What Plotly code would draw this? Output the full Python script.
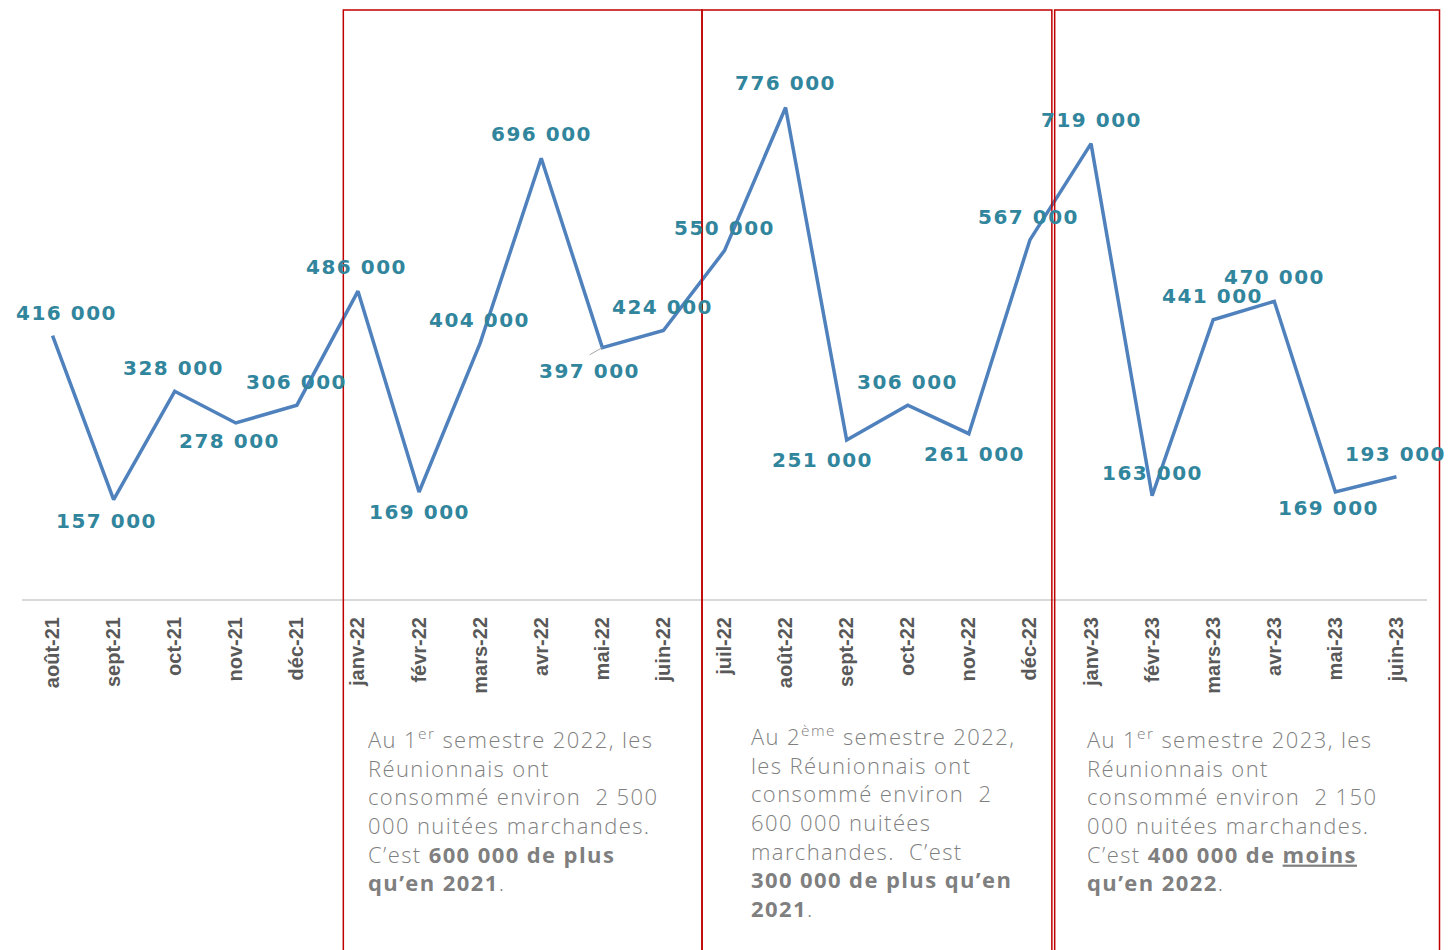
import plotly.graph_objects as go

# ---------------------------------------------------------
# Données : nuitées marchandes consommées par les Réunionnais
# ---------------------------------------------------------
mois = ["août-21", "sept-21", "oct-21", "nov-21", "déc-21",
        "janv-22", "févr-22", "mars-22", "avr-22", "mai-22", "juin-22",
        "juil-22", "août-22", "sept-22", "oct-22", "nov-22", "déc-22",
        "janv-23", "févr-23", "mars-23", "avr-23", "mai-23", "juin-23"]

nuitees = [416000, 157000, 328000, 278000, 306000,
           486000, 169000, 404000, 696000, 397000, 424000,
           550000, 776000, 251000, 306000, 261000, 567000,
           719000, 163000, 441000, 470000, 169000, 193000]

textes = [
    "Au 1<sup>er</sup> semestre 2022, les<br>Réunionnais ont<br>consommé environ  2 500<br>"
    "000 nuitées marchandes.<br>C’est <b>600 000 de plus</b><br><b>qu’en 2021</b>.",
    "Au 2<sup>ème</sup> semestre 2022,<br>les Réunionnais ont<br>consommé environ  2<br>"
    "600 000 nuitées<br>marchandes.  C’est<br><b>300 000 de plus qu’en</b><br><b>2021</b>.",
    "Au 1<sup>er</sup> semestre 2023, les<br>Réunionnais ont<br>consommé environ  2 150<br>"
    "000 nuitées marchandes.<br>C’est <b>400 000 de <u>moins</u></b><br><b>qu’en 2022</b>.",
]

# placement des étiquettes (décalage en px par rapport au point)
label_dx = [14, -7, -1, -6, 0, -1, 0, -1, 0, -13, -1, 0, 0, -24, 0, 6, -1, 0, 0, -1, 0, -7, -1]
label_dy = [23, -21, 23, -18, 23, 24, -20, 23, 24, -23, 23, 23, 25, -20, 23, -20, 23, 24, 23, 24, 24, -16, 23]

TEAL = "#31859C"
GRIS = "#7F7F7F"
ROUGE = "#C00000"

fig = go.Figure()
fig.add_trace(go.Scatter(
    x=mois, y=nuitees, mode="lines",
    line=dict(color="#4F81BD", width=3.5),
    hoverinfo="x+y", showlegend=False
))

# ---- étiquettes de valeurs ----
for i, (m, v) in enumerate(zip(mois, nuitees)):
    txt = f"{v:,}".replace(",", " ")
    fig.add_annotation(
        x=m, y=v, xref="x", yref="y",
        text=f'<span style="letter-spacing:1.5px">{txt}</span>',
        showarrow=False, xanchor="center", yanchor="middle",
        xshift=label_dx[i], yshift=label_dy[i],
        font=dict(family="DejaVu Sans", size=20, color=TEAL, weight="bold"),
    )

# petite ligne de rappel pour mai-22
fig.add_annotation(
    x=mois[9], y=nuitees[9], xref="x", yref="y", text="",
    showarrow=True, arrowhead=0, arrowwidth=1, arrowcolor="#A6A6A6",
    ax=-14, ay=8,
)

# ---- cadres rouges des semestres ----
cadres = [(0.2287, 0.4840), (0.4840, 0.7330), (0.7350, 1.0089)]
for x0, x1 in cadres:
    fig.add_shape(type="rect", xref="paper", yref="paper",
                  x0=x0, x1=x1, y0=-0.65, y1=1.0,
                  line=dict(color=ROUGE, width=1.5), layer="above")

# ---- commentaires ----
pos_textes = [(0.245, -0.207), (0.5174, -0.202), (0.7564, -0.207)]
for (px_, py_), t in zip(pos_textes, textes):
    fig.add_annotation(
        x=px_, y=py_, xref="paper", yref="paper",
        text=f'<span style="letter-spacing:1.4px">{t}</span>',
        showarrow=False, xanchor="left", yanchor="top", align="left",
        font=dict(family="Open Sans", size=22, color=GRIS, weight=300),
    )

# la page html ajoute 8 px de marge autour de la figure
fig.update_layout(
    width=1455, height=950,
    margin=dict(l=13.5, r=35.5, t=2, b=359),
    plot_bgcolor="white", paper_bgcolor="white",
    xaxis=dict(
        type="category", range=[-0.5, 22.5],
        showline=True, linecolor="#D9D9D9", linewidth=2,
        showgrid=False, ticks="", tickangle=-90, ticklabelstandoff=8,
        tickfont=dict(family="Liberation Sans", size=20, color="#595959", weight="bold"),
    ),
    yaxis=dict(range=[0, 930000], visible=False, showgrid=False, zeroline=False),
)

fig.write_html("out.html")
